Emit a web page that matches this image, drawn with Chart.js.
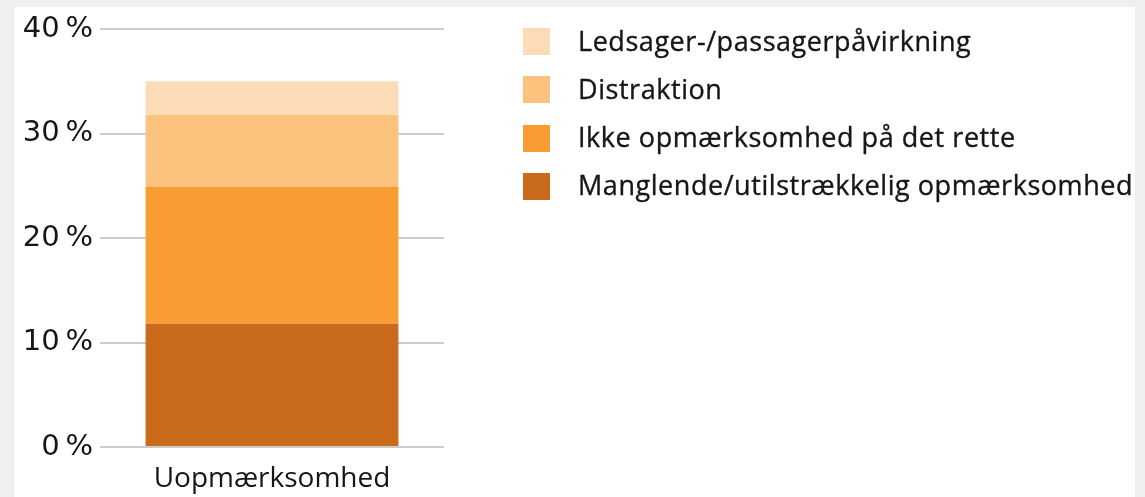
<!DOCTYPE html>
<html lang="da">
<head>
<meta charset="utf-8">
<script src="https://cdn.jsdelivr.net/npm/chart.js@4/dist/chart.umd.min.js"></script>
<style>
  html, body { margin: 0; padding: 0; background: #efefef; width: 1145px; height: 497px; overflow: hidden; }
  #panel { position: absolute; left: 14px; top: 7px; width: 1121px; height: 490px; background: #ffffff; }
  #wrap { position: absolute; left: 0; top: 0; width: 1145px; height: 497px; }
  #legend { position: absolute; left: 523px; top: 28px; margin: 0; padding: 0; list-style: none;
            font-family: "Open Sans", sans-serif; font-size: 27px; color: #161616; letter-spacing: 0.55px;
            -webkit-text-stroke: 0.35px #161616; }
  #legend li { position: relative; height: 27px; margin-bottom: 21.3px; white-space: nowrap; }
  #legend .box { position: absolute; left: 0; top: 0; width: 27px; height: 27px; }
  #legend .txt { position: absolute; left: 55px; top: 50%; transform: translateY(-54%); line-height: 1; }
</style>
</head>
<body>
<div id="panel"></div>
<div id="wrap"><canvas id="chart" width="1145" height="497"></canvas></div>
<ul id="legend"></ul>
<script>
// Andel af ulykker med uopmærksomhed som medvirkende faktor, opdelt på type
const categories = ['Uopmærksomhed'];
const seriesNames = [
  'Manglende/utilstrækkelig opmærksomhed',
  'Ikke opmærksomhed på det rette',
  'Distraktion',
  'Ledsager-/passagerpåvirkning'
];
const manglende = [11.8];
const ikkeRette = [13.1];
const distraktion = [6.9];
const ledsager = [3.2];
const seriesColors = ['#c96b1b', '#f99c34', '#fbc37d', '#fcdcb8'];
const yTicks = [0, 10, 20, 30, 40];

const seriesValues = [manglende, ikkeRette, distraktion, ledsager];

const chart = new Chart(document.getElementById('chart'), {
  type: 'bar',
  data: {
    labels: categories,
    datasets: seriesNames.map((name, i) => ({
      label: name,
      data: seriesValues[i],
      backgroundColor: seriesColors[i],
      borderWidth: 0,
      categoryPercentage: 1,
      barPercentage: 0.735
    }))
  },
  options: {
    responsive: false,
    animation: false,
    layout: { padding: { left: 15, right: 701, top: 29, bottom: 0 } },
    plugins: { legend: { display: false }, tooltip: { enabled: false } },
    scales: {
      x: {
        stacked: true,
        grid: { display: false, drawTicks: false },
        border: { display: false },
        ticks: { color: '#161616', padding: 15, font: { family: 'Open Sans', size: 28 } },
        afterFit: s => { s.height = 50; }
      },
      y: {
        stacked: true,
        min: 0,
        max: 40,
        afterBuildTicks: s => { s.ticks = yTicks.map(v => ({ value: v })); },
        grid: { color: '#cccccc', lineWidth: 2, drawTicks: false },
        border: { display: false },
        ticks: {
          color: '#161616',
          padding: 7,
          font: { family: 'DejaVu Sans', size: 29 },
          callback: v => v + '\u2009%'
        },
        afterFit: s => { s.width = 85; }
      }
    }
  }
});

// Legend listed top segment first, as the bar stacks
const legend = document.getElementById('legend');
chart.data.datasets.slice().reverse().forEach(ds => {
  const li = document.createElement('li');
  const box = document.createElement('span');
  box.className = 'box';
  box.style.background = ds.backgroundColor;
  const txt = document.createElement('span');
  txt.className = 'txt';
  txt.textContent = ds.label;
  li.appendChild(box);
  li.appendChild(txt);
  legend.appendChild(li);
});
</script>
</body>
</html>
